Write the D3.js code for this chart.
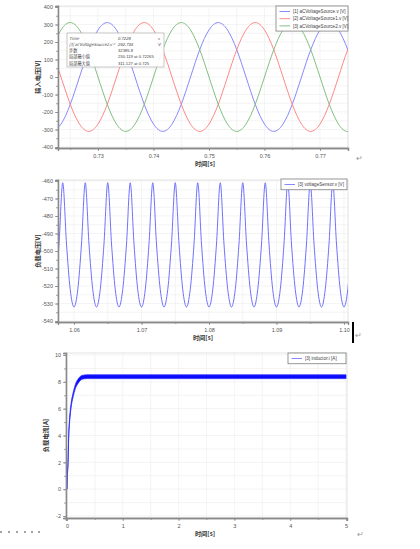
<!DOCTYPE html>
<html>
<head>
<meta charset="utf-8">
<title>Simulation plots</title>
<style>
body { margin: 0; background: #fff; }
svg { display: block; font-family: "Liberation Sans", Arial, sans-serif; }
.tick text { font-size: 5.5px; fill: #555; }
.axis path, .axis line { stroke: #8a8a8a; }
.axis path { stroke-width: 1.3px; }
.grid line { stroke: #efefef; stroke-width: 0.7px; }
.axis-title { font-family: "Noto Sans CJK SC", sans-serif; font-weight: bold; font-size: 6.2px; fill: #333; }
.legend text { font-size: 4.6px; fill: #444; }
.tip text { font-size: 4.2px; fill: #444; }
</style>
</head>
<body>
<svg id="fig" width="420" height="549"></svg>
<script src="https://cdn.jsdelivr.net/npm/d3@7"></script>
<script>
// ---- panel 1 : three phase source voltages ----
const srcTime = [0.721667, 0.723333, 0.725, 0.726667, 0.728333, 0.73, 0.731667, 0.733333, 0.735, 0.736667,
  0.738333, 0.74, 0.741667, 0.743333, 0.745, 0.746667, 0.748333, 0.75, 0.751667, 0.753333,
  0.755, 0.756667, 0.758333, 0.76, 0.761667, 0.763333, 0.765, 0.766667, 0.768333, 0.77,
  0.771667, 0.773333, 0.775, 0.776667];
const srcV0 = [-311, -269, -156, 0, 156, 269, 311, 269, 156, 0, -156, -269, -311, -269, -156, 0, 156, 269,
  311, 269, 156, 0, -156, -269, -311, -269, -156, 0, 156, 269, 311, 269, 156, 0];
const srcV1 = [156, 0, -156, -269, -311, -269, -156, 0, 156, 269, 311, 269, 156, 0, -156, -269, -311, -269,
  -156, 0, 156, 269, 311, 269, 156, 0, -156, -269, -311, -269, -156, 0, 156, 269];
const srcV2 = [156, 269, 311, 269, 156, 0, -156, -269, -311, -269, -156, 0, 156, 269, 311, 269, 156, 0,
  -156, -269, -311, -269, -156, 0, 156, 269, 311, 269, 156, 0, -156, -269, -311, -269];
const srcNames = ["[1] aCVoltageSource.v [V]", "[2] aCVoltageSource1.v [V]", "[3] aCVoltageSource2.v [V]"];
const srcColors = ["#7b7bff", "#ff7b7b", "#74b874"];
const srcTicksX = [0.73, 0.74, 0.75, 0.76, 0.77];
const srcTicksY = [-400, -300, -200, -100, 0, 100, 200, 300, 400];
const tipRows = [["Time", "0.7228", "s"], ["[3] aCVoltageSource2.v =", "292.733", "V"],
  ["步数", "32385.8", ""], ["局部最小值", "230.119 at 0.72265", ""], ["局部最大值", "311.127 at 0.725", ""]];

// ---- panel 2 : load voltage ripple ----
const loadTime = [1.05667, 1.05722, 1.05778, 1.05833, 1.05889, 1.05944,
  1.06000, 1.06056, 1.06111, 1.06167, 1.06222, 1.06278,
  1.06333, 1.06389, 1.06444, 1.06500, 1.06556, 1.06611,
  1.06667, 1.06722, 1.06778, 1.06833, 1.06889, 1.06944,
  1.07000, 1.07056, 1.07111, 1.07167, 1.07222, 1.07278,
  1.07333, 1.07389, 1.07444, 1.07500, 1.07556, 1.07611,
  1.07667, 1.07722, 1.07778, 1.07833, 1.07889, 1.07944,
  1.08000, 1.08056, 1.08111, 1.08167, 1.08222, 1.08278,
  1.08333, 1.08389, 1.08444, 1.08500, 1.08556, 1.08611,
  1.08667, 1.08722, 1.08778, 1.08833, 1.08889, 1.08944,
  1.09000, 1.09056, 1.09111, 1.09167, 1.09222, 1.09278,
  1.09333, 1.09389, 1.09444, 1.09500, 1.09556, 1.09611,
  1.09667, 1.09722, 1.09778, 1.09833, 1.09889, 1.09944,
  1.10000, 1.10056, 1.10111];
const loadV = [-532, -522, -496, -461, -496, -522,
  -532, -522, -496, -461, -496, -522,
  -532, -522, -496, -461, -496, -522,
  -532, -522, -496, -461, -496, -522,
  -532, -522, -496, -461, -496, -522,
  -532, -522, -496, -461, -496, -522,
  -532, -522, -496, -461, -496, -522,
  -532, -522, -496, -461, -496, -522,
  -532, -522, -496, -461, -496, -522,
  -532, -522, -496, -461, -496, -522,
  -532, -522, -496, -461, -496, -522,
  -532, -522, -496, -461, -496, -522,
  -532, -522, -496, -461, -496, -522,
  -532, -522, -496];
const loadTicksX = [1.06, 1.07, 1.08, 1.09, 1.10];
const loadTicksY = [-540, -530, -520, -510, -500, -490, -480, -470, -460];

// ---- panel 3 : inductor current ----
const curTime = [0, 0.006, 0.018, 0.03, 0.048, 0.072, 0.108, 0.15, 0.21, 0.27, 0.36, 0.5, 1, 2, 3, 4, 5];
const curHigh = [0.05, 1.1, 2.0, 4.0, 5.35, 6.35, 7.15, 7.8, 8.27, 8.48, 8.52, 8.52, 8.52, 8.52, 8.52, 8.52, 8.52];
const curLow = [0, 0.9, 1.8, 3.8, 5.05, 6.05, 6.85, 7.5, 7.95, 8.2, 8.24, 8.24, 8.24, 8.24, 8.24, 8.24, 8.24];
const curTicksX = [0, 1, 2, 3, 4, 5];
const curTicksY = [-2, 0, 2, 4, 6, 8, 10];

const svg = d3.select("#fig");
svg.append("rect").attr("width", 420).attr("height", 549).attr("fill", "#fff");

// build a scale whose range is the plot frame, calibrated from two tick positions
function frameScale(v0, p0, v1, p1, a, b) {
  const s = d3.scaleLinear().domain([v0, v1]).range([p0, p1]);
  return d3.scaleLinear().domain([s.invert(a), s.invert(b)]).range([a, b]);
}

function panel(o) {
  const g = svg.append("g");
  const id = "clip" + o.name;
  g.append("clipPath").attr("id", id).append("rect")
    .attr("x", o.left).attr("y", o.top).attr("width", o.right - o.left).attr("height", o.bottom - o.top);

  // grid at major and minor steps
  const grid = g.append("g").attr("class", "grid");
  grid.selectAll(".gx").data(o.xMinor).join("line")
    .attr("x1", d => o.x(d)).attr("x2", d => o.x(d)).attr("y1", o.top).attr("y2", o.bottom);
  grid.selectAll(".gy").data(o.yMinor).join("line")
    .attr("y1", d => o.y(d)).attr("y2", d => o.y(d)).attr("x1", o.left).attr("x2", o.right);

  g.append("rect").attr("x", o.left).attr("y", o.top)
    .attr("width", o.right - o.left).attr("height", o.bottom - o.top)
    .attr("fill", "none").attr("stroke", "#dcdcdc").attr("stroke-width", 0.8);

  const plot = g.append("g").attr("clip-path", `url(#${id})`);

  // axes
  g.append("g").attr("class", "axis").attr("transform", `translate(0,${o.bottom})`)
    .call(d3.axisBottom(o.x).tickValues(o.xMinor).tickSize(2).tickFormat(""));
  g.append("g").attr("class", "axis").attr("transform", `translate(0,${o.bottom})`)
    .call(d3.axisBottom(o.x).tickValues(o.xMajor).tickSize(3).tickPadding(3).tickFormat(o.xFmt));
  g.append("g").attr("class", "axis").attr("transform", `translate(${o.left},0)`)
    .call(d3.axisLeft(o.y).tickValues(o.yMinor).tickSize(2).tickFormat(""));
  g.append("g").attr("class", "axis").attr("transform", `translate(${o.left},0)`)
    .call(d3.axisLeft(o.y).tickValues(o.yMajor).tickSize(3).tickPadding(2).tickFormat(o.yFmt));
  g.selectAll(".axis .tick line").attr("stroke-width", 0.8);

  g.append("text").attr("class", "axis-title").attr("text-anchor", "middle")
    .attr("x", o.xTitleX).attr("y", o.xTitleY).text("时间[s]");
  g.append("text").attr("class", "axis-title").attr("text-anchor", "middle")
    .attr("transform", `translate(${o.yTitleX},${(o.top + o.bottom) / 2}) rotate(-90)`)
    .text(o.yTitle);
  return {g, plot};
}

function legend(g, x, y, w, names, colors) {
  const lg = g.append("g").attr("class", "legend");
  const h = names.length * 7.2 + 3.5;
  lg.append("rect").attr("x", x).attr("y", y).attr("width", w).attr("height", h)
    .attr("fill", "#fff").attr("stroke", "#8c8c8c").attr("stroke-width", 0.9);
  names.forEach((n, i) => {
    const yy = y + 5.5 + i * 7.2;
    lg.append("line").attr("x1", x + 3.5).attr("x2", x + 14).attr("y1", yy).attr("y2", yy)
      .attr("stroke", colors[i]).attr("stroke-width", 0.9);
    lg.append("text").attr("x", x + 17).attr("y", yy + 1.6).text(n);
  });
}

// ---------- panel 1 ----------
const x1 = frameScale(0.73, 98, 0.77, 320, 58, 348);
const y1 = frameScale(-400, 147, 400, 7, 148, 6);
const p1 = panel({
  name: "a", left: 58, right: 348, top: 6, bottom: 148, x: x1, y: y1,
  xMajor: srcTicksX, xMinor: d3.range(0.725, 0.776, 0.005),
  yMajor: srcTicksY, yMinor: d3.range(-400, 401, 50),
  xFmt: d3.format(".2f"), yFmt: d => d,
  xTitleX: 205, xTitleY: 165.5, yTitle: "输入电压[V]", yTitleX: 40
});
const srcLine = vals => d3.line().curve(d3.curveNatural)
  .x((d, i) => x1(srcTime[i])).y(d => y1(d))(vals);
[srcV0, srcV1, srcV2].forEach((vals, i) => {
  p1.plot.append("path").attr("d", srcLine(vals)).attr("fill", "none")
    .attr("stroke", srcColors[i]).attr("stroke-width", 0.9);
});
legend(p1.g, 276, 6, 72, srcNames, srcColors);

// data tooltip
const tip = p1.g.append("g").attr("class", "tip");
tip.append("rect").attr("x", 67).attr("y", 33).attr("width", 97).attr("height", 34)
  .attr("fill", "rgba(255,255,255,0.93)").attr("stroke", "#b8b8b8").attr("stroke-width", 0.8);
tipRows.forEach((r, i) => {
  const yy = 39.5 + i * 6.3;
  const green = i < 2;
  const t = tip.append("g").attr("font-style", green ? "italic" : "normal");
  const col = green ? "#4aa84a" : "#444";
  t.append("text").attr("x", 69).attr("y", yy).attr("fill", col)
    .attr("textLength", i === 1 ? 46 : null)
    .attr("font-family", "Noto Sans CJK SC, sans-serif").text(r[0]);
  t.append("text").attr("x", 118).attr("y", yy).attr("fill", col).text(r[1]);
  t.append("text").attr("x", 158).attr("y", yy).attr("fill", col).text(r[2]);
});

// ---------- panel 2 ----------
const x2 = frameScale(1.06, 74, 1.10, 344, 58, 348);
const y2 = frameScale(-540, 321, -460, 181, 322, 180);
const p2 = panel({
  name: "b", left: 58, right: 348, top: 180, bottom: 322, x: x2, y: y2,
  xMajor: loadTicksX, xMinor: d3.range(1.06, 1.1001, 0.005),
  yMajor: loadTicksY, yMinor: d3.range(-540, -459, 5),
  xFmt: d3.format(".2f"), yFmt: d => d,
  xTitleX: 203, xTitleY: 339.5, yTitle: "负载电压[V]", yTitleX: 40
});
p2.plot.append("path")
  .attr("d", d3.line().curve(d3.curveMonotoneX).x((d, i) => x2(loadTime[i])).y(d => y2(d))(loadV))
  .attr("fill", "none").attr("stroke", "#7070ff").attr("stroke-width", 1);
legend(p2.g, 281, 179, 66, ["[3] voltageSensor.v [V]"], ["#7b7bff"]);

// ---------- panel 3 ----------
const x3 = frameScale(0, 67, 5, 346, 66, 347);
const y3 = frameScale(-2, 516, 10, 355, 518, 353);
const p3 = panel({
  name: "c", left: 66, right: 347, top: 353, bottom: 518, x: x3, y: y3,
  xMajor: curTicksX, xMinor: d3.range(0, 5.01, 0.5),
  yMajor: curTicksY, yMinor: d3.range(-2, 10.1, 1),
  xFmt: d => d, yFmt: d => d,
  xTitleX: 205, xTitleY: 536, yTitle: "负载电流[A]", yTitleX: 48
});
p3.plot.append("path")
  .attr("d", d3.area().curve(d3.curveMonotoneX).x((d, i) => x3(curTime[i]))
    .y0((d, i) => y3(curLow[i])).y1(d => y3(d))(curHigh))
  .attr("fill", "#0a0aff").attr("stroke", "#2a2aff").attr("stroke-width", 0.8);
legend(p3.g, 288, 353, 58, ["[3] inductor.i [A]"], ["#7b7bff"]);

// ---------- page marks from the source document ----------
const marks = svg.append("g").attr("fill", "#9a9a9a").attr("font-size", 8);
[[356, 161], [355, 338], [357, 537]].forEach(p => {
  marks.append("text").attr("x", p[0]).attr("y", p[1]).text("↵");
});
svg.append("rect").attr("x", 352).attr("y", 322).attr("width", 2).attr("height", 21).attr("fill", "#000");
svg.append("g").selectAll("circle").data([1, 9, 17, 25, 32, 39]).join("circle")
  .attr("cx", d => d).attr("cy", 532).attr("r", 0.9).attr("fill", "#777");
</script>
</body>
</html>
